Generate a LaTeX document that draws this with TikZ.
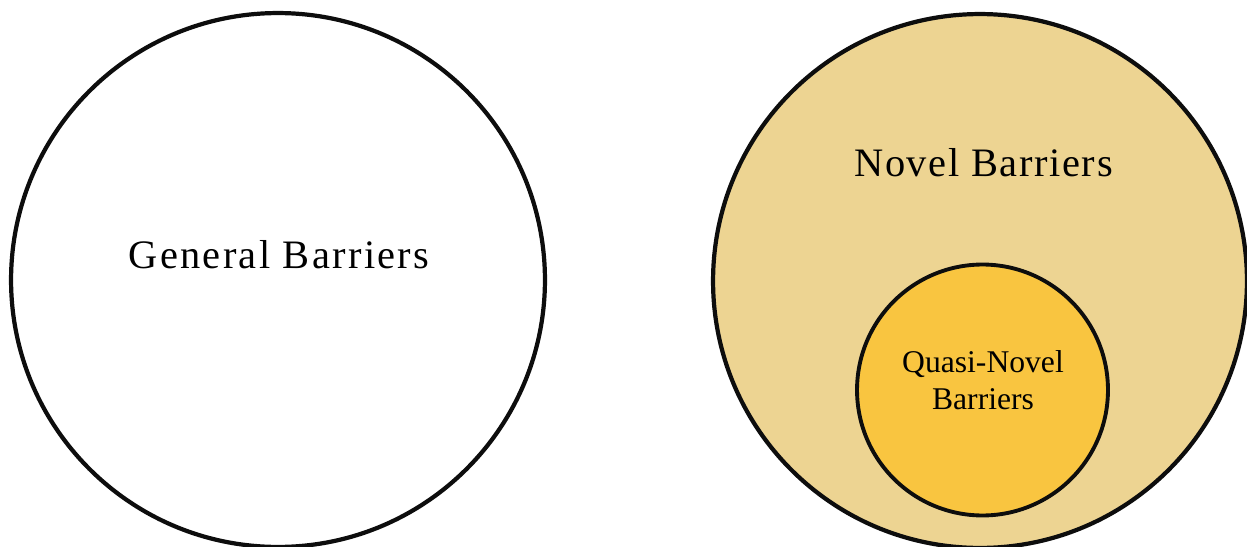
\documentclass[tikz,border=0pt]{standalone}
\usepackage{fontspec}
\setmainfont{Liberation Serif}
\newfontfamily\widefont[LetterSpace=4]{Liberation Serif}
\newfontfamily\widerfont[LetterSpace=5.8]{Liberation Serif}
\definecolor{novelfill}{RGB}{237,212,146}
\definecolor{quasifill}{RGB}{249,197,64}

\begin{document}
\begin{tikzpicture}[x=0.02cm,y=-0.02cm,
  ring/.style={draw=black!95,line width=2.4pt,circle,inner sep=0pt},
  bigtext/.style={font=\widefont\fontsize{23}{27}\selectfont,anchor=base,inner sep=0pt},
  smalltext/.style={font=\fontsize{18}{20.8}\selectfont,align=center,inner sep=0pt}]
  \useasboundingbox (0,0) rectangle (1247,547);
  \node[ring,minimum size=10.68cm] (general) at (278,280) {};
  \node[ring,fill=novelfill,minimum size=10.68cm] (novel) at (980,281) {};
  \node[ring,line width=2.2pt,fill=quasifill,minimum size=5.02cm] (quasi) at (982.5,390) {};
  \node[bigtext,font=\widerfont\fontsize{23}{27}\selectfont] (generaltext) at (279,269) {General Barriers};
  \node[bigtext] (noveltext) at (983.5,177) {Novel Barriers};
  \node[smalltext,anchor=base] (quasitext) at (983,409.3) {Quasi-Novel\\Barriers};
\end{tikzpicture}
\end{document}
